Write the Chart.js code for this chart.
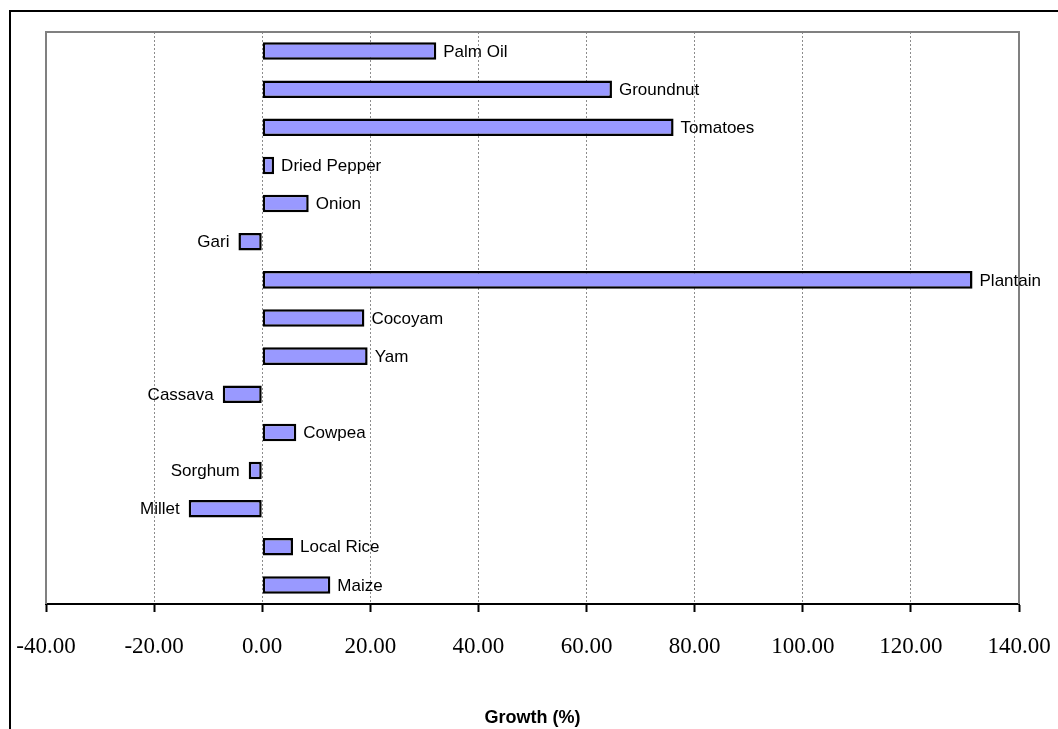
<!DOCTYPE html>
<html>
<head>
<meta charset="utf-8">
<script src="https://cdn.jsdelivr.net/npm/chart.js@4.4.0/dist/chart.umd.min.js"></script>
<style>
  html, body { margin: 0; padding: 0; background: #fff; overflow: hidden; }
  #wrap { position: relative; width: 1058px; height: 729px; }
  #frame { position: absolute; left: 9px; top: 10px; width: 1200px; height: 900px; border: 2px solid #000; box-sizing: border-box; }
  canvas { position: absolute; left: 0; top: 0; }
</style>
</head>
<body>
<div id="wrap">
  <div id="frame"></div>
  <canvas id="grafico" width="1058" height="729"></canvas>
</div>
<script>
// categorias, de cima para baixo
const culturas = ['Palm Oil', 'Groundnut', 'Tomatoes', 'Dried Pepper', 'Onion', 'Gari', 'Plantain',
    'Cocoyam', 'Yam', 'Cassava', 'Cowpea', 'Sorghum', 'Millet', 'Local Rice', 'Maize'];
const crescimento = [32.2, 64.7, 76.1, 2.2, 8.6, -4.4, 131.4, 18.9, 19.5, -7.3, 6.3, -2.5, -13.6, 5.7, 12.6];
const eixoMin = -40;
const eixoMax = 140;
const passo = 20;

// moldura cinza da area do grafico
const moldura = {
    id: 'moldura',
    beforeDatasetsDraw(chart) {
        const { ctx, chartArea: a } = chart;
        ctx.save();
        ctx.strokeStyle = '#808080';
        ctx.lineWidth = 2;
        ctx.beginPath();
        ctx.moveTo(a.left, a.bottom);
        ctx.lineTo(a.left, a.top);
        ctx.lineTo(a.right, a.top);
        ctx.lineTo(a.right, a.bottom);
        ctx.stroke();
        ctx.restore();
    }
};

// nome da cultura ao lado de cada barra
const rotulos = {
    id: 'rotulos',
    afterDatasetsDraw(chart) {
        const { ctx } = chart;
        const meta = chart.getDatasetMeta(0);
        ctx.save();
        ctx.font = '17px "Liberation Sans", Arial, sans-serif';
        ctx.fillStyle = '#000';
        ctx.textBaseline = 'middle';
        meta.data.forEach((bar, i) => {
            const v = crescimento[i];
            if (v >= 0) {
                ctx.textAlign = 'left';
                ctx.fillText(culturas[i], bar.x + 7, bar.y + 1);
            } else {
                ctx.textAlign = 'right';
                ctx.fillText(culturas[i], bar.x - 9, bar.y + 1);
            }
        });
        ctx.restore();
    }
};

const ctx = document.getElementById('grafico').getContext('2d');

new Chart(ctx, {
    type: 'bar',
    data: {
        labels: culturas,
        datasets: [{
            data: crescimento,
            backgroundColor: '#9999FF',
            borderColor: '#000000',
            borderWidth: 2.5,
            borderSkipped: false,
            categoryPercentage: 1,
            barPercentage: 0.46
        }]
    },
    options: {
        indexAxis: 'y',
        responsive: false,
        animation: false,
        layout: { padding: { left: 46, right: 39, top: 32, bottom: 0 } },
        plugins: {
            legend: { display: false },
            tooltip: { enabled: false }
        },
        scales: {
            y: { display: false },
            x: {
                min: eixoMin,
                max: eixoMax,
                afterFit: (s) => { s.height = 125; s.paddingLeft = 0; s.paddingRight = 0; },
                border: { display: true, color: '#000', width: 2, dash: [2, 2] },
                grid: {
                    color: '#8c8c8c',
                    lineWidth: 1,
                    tickLength: 8,
                    tickColor: '#000',
                    tickWidth: 2,
                    tickBorderDash: []
                },
                ticks: {
                    stepSize: passo,
                    padding: 21,
                    color: '#000',
                    maxRotation: 0,
                    font: { family: '"Liberation Serif", "Times New Roman", serif', size: 23 },
                    callback: (v) => v.toFixed(2)
                },
                title: {
                    display: true,
                    text: 'Growth (%)',
                    color: '#000',
                    padding: { top: 10, bottom: 0 },
                    font: { family: '"Liberation Sans", Arial, sans-serif', size: 18, weight: 'bold' }
                }
            }
        }
    },
    plugins: [moldura, rotulos]
});
</script>
</body>
</html>
